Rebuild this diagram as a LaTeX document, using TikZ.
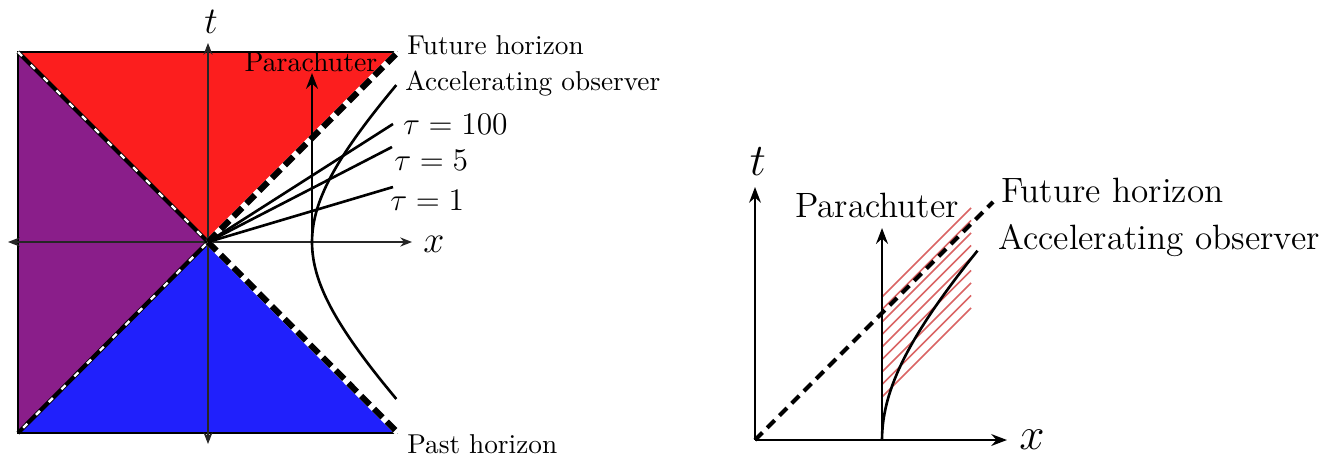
\documentclass[tikz,border=0pt]{standalone}
\usepackage{amsmath, amssymb}
\usepackage{xcolor}
\usepackage{tikz}
\usetikzlibrary{arrows.meta}

\definecolor{futurered}{RGB}{252,30,30}
\definecolor{pastblue}{RGB}{32,32,252}
\definecolor{leftpurple}{RGB}{138,30,138}
\definecolor{hatchred}{RGB}{218,100,100}

\begin{document}
\begin{tikzpicture}[x=0.0134cm,y=-0.0134cm,>={Stealth[length=6pt,width=4.5pt]},
    worldline/.style={line width=1pt},
    horizon/.style={line width=2.3pt,dash pattern=on 4.6pt off 2.3pt},
    thinaxis/.style={line width=0.4pt,black!85,{Stealth[length=4.5pt,width=3.5pt]}-{Stealth[length=4.5pt,width=3.5pt]}},
    leftlabel/.style={right,font=\fontsize{10.4}{12}\selectfont},
    rightlabel/.style={font=\fontsize{13.4}{16}\selectfont}]
    \useasboundingbox (0,0) rectangle (1338,459);

    % Left diagram
    \coordinate (O) at (208,242);
    \coordinate (TL) at (18,52);
    \coordinate (TR) at (398,52);
    \coordinate (BL) at (18,433);
    \coordinate (BR) at (398,433);
    \fill[futurered] (TL) -- (TR) -- (O) -- cycle;
    \fill[pastblue] (BL) -- (BR) -- (O) -- cycle;
    \fill[leftpurple] (TL) -- (BL) -- (O) -- cycle;
    \draw[line width=0.6pt] (TR) -- (TL) -- (BL) -- (BR);

    \draw[thinaxis] (208,444) -- (208,43);
    \draw[thinaxis] (8,242) -- (412,242);
    \node (tl) at (211,22) {\Large$t$};
    \node[right] (xl) at (414,244) {\Large$x$};

    % horizons
    \draw[line width=1.6pt] (TL) -- (O) -- (BL);
    \draw[white,line width=0.9pt,dash pattern=on 2.2pt off 4.7pt] (TL) -- (O) -- (BL);
    \draw[white,line width=2.3pt] (O) -- (TR) (O) -- (BR);
    \draw[horizon] (O) -- (TR) (O) -- (BR);
    \node[leftlabel] (fut) at (398,45) {Future horizon};
    \node[leftlabel] (past) at (398,444) {Past horizon};

    % tau = const lines
    \draw[worldline] (O) -- (393,124) node[right] (t100) {\large$\tau=100$};
    \draw[worldline] (O) -- (392,147);
    \draw[worldline] (O) -- (393,187);
    \node[right] (t5) at (385,160) {\large$\tau=5$};
    \node[right] (t1) at (381,200) {\large$\tau=1$};

    % observers
    \draw[worldline] plot[domain=-1.2:1.2,smooth,variable=\s]
        ({208+104*cosh(\s)},{242-104*sinh(\s)});
    \node[leftlabel] (acc) at (396,84) {Accelerating observer};
    \draw[worldline,->] (312,242) -- (312,73);
    \node[font=\fontsize{10.6}{12}\selectfont] (par) at (311,62) {Parachuter};

    % Right diagram
    \coordinate (O2) at (755,440);
    \foreach \k in {0,...,8}
        \draw[hatchred,line width=0.6pt] (882,{297+12.5*\k}) -- ++(89,-89);
    \draw[line width=0.8pt,->] (O2) -- (755,187);
    \draw[line width=0.8pt,->] (O2) -- (1007,440);
    \node (t2) at (758,162) {\LARGE$t$};
    \node[right] (x2) at (1010,440) {\LARGE$x$};
    \draw[line width=1.6pt,dash pattern=on 4pt off 2.6pt] (O2) -- (993,202);
    \draw[worldline,->] (882,440) -- (882,228);
    \draw[worldline] plot[domain=0:1.11,smooth,variable=\s]
        ({882+140*(cosh(\s)-1)},{440-140*sinh(\s)});
    \node[rightlabel] (par2) at (877,205) {Parachuter};
    \node[rightlabel,right] (fut2) at (992,190) {Future horizon};
    \node[rightlabel,right] (acc2) at (989,241) {Accelerating observer};
\end{tikzpicture}
\end{document}
